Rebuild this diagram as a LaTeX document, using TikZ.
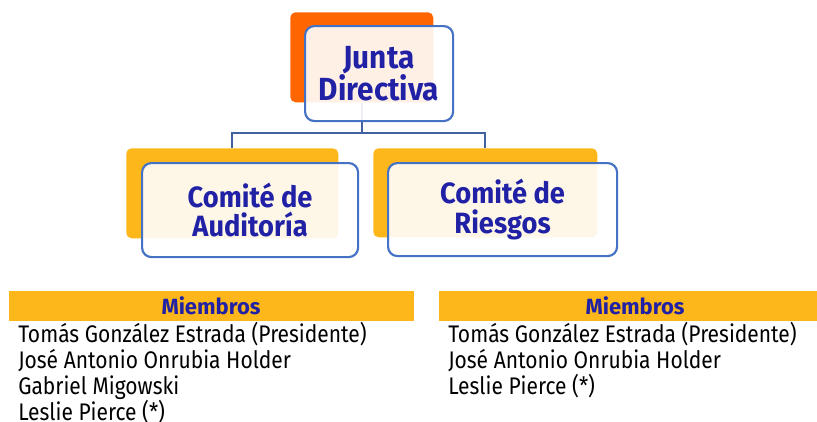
\documentclass[tikz,border=0pt]{standalone}
\usepackage{fontspec}
\setmainfont{Fira Sans}[FakeStretch=0.875]
\newfontfamily\titlefont{Fira Sans}[FakeStretch=0.93]
\newfontfamily\barfont{Fira Sans}[FakeStretch=1.0]
\definecolor{orangeA}{HTML}{FF6600}
\definecolor{goldA}{HTML}{FDB71A}
\definecolor{boxblue}{HTML}{4472C4}
\definecolor{linkblue}{HTML}{41629E}
\definecolor{txtblue}{HTML}{2121A6}
\tikzset{
  backbox/.style={anchor=north west, inner sep=0pt, rounded corners=4pt},
  frontbox/.style={anchor=north west, inner sep=0pt, rounded corners=7pt, draw=boxblue, line width=1.6pt, fill=white, fill opacity=0.9},
  titletext/.style={text=txtblue, font=\titlefont\bfseries\fontsize{24}{19}\selectfont, align=center},
  cometext/.style={text=txtblue, font=\titlefont\bfseries\fontsize{22}{22}\selectfont, align=center},
  link/.style={draw=linkblue, line width=1.8pt},
  bar/.style={anchor=north west, inner sep=0pt, fill=goldA},
  bartext/.style={text=txtblue, font=\barfont\bfseries\fontsize{16.5}{18}\selectfont},
  member/.style={anchor=north west, inner sep=0pt, align=left, font=\fontsize{18}{19.5}\selectfont}
}
\begin{document}
\begin{tikzpicture}[x=0.75pt,y=-0.75pt]
\useasboundingbox (0,0) rectangle (817,421);
% back rectangles
\node[backbox, fill=orangeA, minimum width=143*0.75pt, minimum height=90*0.75pt] (jback) at (290,12) {};
\node[backbox, fill=goldA, minimum width=212*0.75pt, minimum height=90*0.75pt] (aback) at (126,148) {};
\node[backbox, fill=goldA, minimum width=224*0.75pt, minimum height=89*0.75pt] (rback) at (373,148) {};
% connectors
\coordinate (bus) at (362,133);
\draw[link] (jback.south) -- (jback.south |- bus) -| (aback.north);
\draw[link] (jback.south |- bus) -| (rback.north);
% front boxes
\node[frontbox, minimum width=148*0.75pt, minimum height=95*0.75pt] (jfront) at (304,25) {};
\node[frontbox, minimum width=216*0.75pt, minimum height=94*0.75pt] (afront) at (141,162) {};
\node[frontbox, minimum width=229*0.75pt, minimum height=93*0.75pt] (rfront) at (387,162) {};
% texts
\node[titletext] (jtext) at (jfront.center) {Junta\\Directiva};
\node[cometext] (atext) at (afront.center) {Comité de\\Auditoría};
\node[cometext] (rtext) at (rfront.center) {Comité de\\Riesgos};
% member bars
\node[bar, minimum width=405*0.75pt, minimum height=30*0.75pt] (lbar) at (9,291) {};
\node[bar, minimum width=378*0.75pt, minimum height=30*0.75pt] (rbar) at (439,291) {};
\node[bartext] (lbt) at (211,306) {Miembros};
\node[bartext] (rbt) at (635,306) {Miembros};
\node[member] (lmem) at (18,322) {Tomás González Estrada (Presidente)\\José Antonio Onrubia Holder\\Gabriel Migowski\\Leslie Pierce (*)};
\node[member] (rmem) at (448,322) {Tomás González Estrada (Presidente)\\José Antonio Onrubia Holder\\Leslie Pierce (*)};
\end{tikzpicture}
\end{document}
